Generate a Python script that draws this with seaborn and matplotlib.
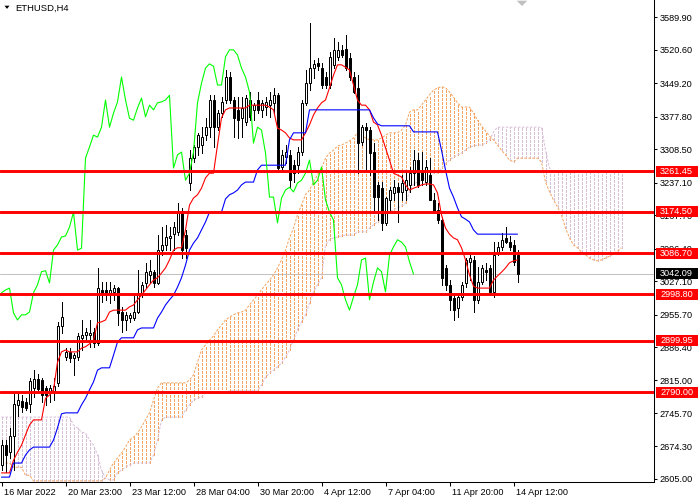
import numpy as np
import seaborn as sns
import matplotlib.pyplot as plt
from matplotlib.patches import Rectangle, Polygon
from matplotlib.transforms import blended_transform_factory, ScaledTranslation

# ETHUSD H4 candles
opens = [
    2634, 2677, 2663, 2696, 2762, 2771, 2769, 2764, 2799, 2818,
    2816, 2799, 2791, 2793, 2810, 2931, 2865, 2876, 2863, 2865,
    2906, 2912, 2912, 2919, 2895, 3008, 3008, 3002, 3004, 3012,
    2961, 2944, 2948, 2948, 2961, 3002, 3023, 3040, 3047, 3023,
    3093, 3104, 3119, 3127, 3132, 3174, 3125, 3236, 3289, 3313,
    3317, 3338, 3355, 3413, 3355, 3385, 3413, 3462, 3413, 3392,
    3374, 3366, 3413, 3392, 3413, 3392, 3398, 3402, 3407, 3423,
    3270, 3291, 3296, 3274, 3274, 3302, 3407, 3449, 3481, 3492,
    3481, 3462, 3445, 3488, 3505, 3520, 3522, 3502, 3462, 3439,
    3323, 3355, 3349, 3302, 3232, 3225, 3151, 3200, 3215, 3227,
    3217, 3221, 3232, 3257, 3285, 3264, 3238, 3253, 3200, 3179,
    3157, 3055, 3019, 2991, 2970, 2993, 3023, 3068, 3072, 2987,
    3025, 3051, 3055, 3004, 3087, 3100, 3119, 3110, 3104, 3082]
highs = [
    2688, 2688, 2714, 2789, 2786, 2784, 2778, 2820, 2837, 2828,
    2820, 2803, 2805, 2820, 2940, 2983, 2884, 2884, 2874, 2917,
    2944, 2927, 2944, 2927, 3055, 3025, 3025, 3025, 3019, 3014,
    2972, 2961, 2959, 3002, 3051, 3025, 3066, 3072, 3051, 3125,
    3142, 3147, 3142, 3153, 3194, 3183, 3136, 3306, 3317, 3342,
    3355, 3374, 3423, 3423, 3392, 3419, 3477, 3473, 3419, 3419,
    3419, 3423, 3430, 3407, 3430, 3413, 3419, 3430, 3439, 3428,
    3306, 3317, 3306, 3285, 3313, 3413, 3477, 3577, 3498, 3502,
    3492, 3473, 3515, 3545, 3537, 3530, 3552, 3513, 3473, 3466,
    3360, 3364, 3355, 3321, 3238, 3238, 3206, 3227, 3242, 3236,
    3253, 3260, 3270, 3306, 3300, 3302, 3285, 3289, 3215, 3194,
    3164, 3061, 3029, 3002, 3002, 3025, 3076, 3082, 3080, 3057,
    3061, 3066, 3061, 3110, 3110, 3130, 3142, 3123, 3115, 3093]
lows = [
    2624, 2620, 2650, 2624, 2739, 2748, 2752, 2748, 2780, 2791,
    2769, 2762, 2769, 2773, 2803, 2917, 2859, 2855, 2826, 2859,
    2880, 2901, 2886, 2886, 2891, 2983, 2987, 2981, 2987, 2934,
    2919, 2923, 2940, 2944, 2959, 2993, 3014, 3023, 3014, 3021,
    3082, 3093, 3093, 3093, 3125, 3076, 3076, 3221, 3281, 3296,
    3300, 3328, 3334, 3313, 3349, 3377, 3407, 3407, 3334, 3332,
    3334, 3360, 3370, 3370, 3385, 3377, 3381, 3377, 3385, 3260,
    3264, 3279, 3225, 3238, 3257, 3296, 3402, 3434, 3460, 3477,
    3439, 3439, 3439, 3481, 3498, 3505, 3477, 3456, 3428, 3257,
    3317, 3264, 3253, 3172, 3157, 3136, 3147, 3174, 3200, 3153,
    3200, 3200, 3217, 3232, 3227, 3232, 3232, 3200, 3172, 3151,
    3019, 3008, 2965, 2944, 2950, 2987, 3014, 3029, 2961, 2981,
    3021, 3029, 2997, 2993, 3082, 3093, 3108, 3093, 3061, 3025]
closes = [
    2677, 2656, 2696, 2764, 2773, 2758, 2756, 2814, 2818, 2797,
    2784, 2784, 2799, 2803, 2931, 2950, 2876, 2863, 2869, 2910,
    2912, 2919, 2917, 2895, 3012, 3002, 3002, 3008, 3012, 2959,
    2944, 2955, 2955, 2961, 3002, 3019, 3047, 3049, 3023, 3093,
    3104, 3121, 3123, 3142, 3174, 3093, 3097, 3289, 3313, 3338,
    3334, 3355, 3413, 3355, 3385, 3409, 3462, 3413, 3374, 3370,
    3396, 3417, 3377, 3402, 3392, 3407, 3409, 3413, 3423, 3268,
    3296, 3302, 3242, 3257, 3302, 3407, 3449, 3481, 3490, 3485,
    3445, 3445, 3505, 3520, 3520, 3509, 3481, 3462, 3430, 3321,
    3355, 3349, 3300, 3206, 3206, 3151, 3204, 3221, 3227, 3217,
    3236, 3242, 3257, 3285, 3232, 3242, 3270, 3200, 3174, 3157,
    3034, 3019, 2987, 2965, 2993, 3019, 3072, 3076, 2987, 3025,
    3055, 3047, 3004, 3082, 3100, 3115, 3110, 3100, 3068, 3042.09]

# Ichimoku lines
tenkan = [
    2618, 2618, 2618, 2645, 2662, 2677, 2699, 2720, 2731, 2731,
    2731, 2777, 2784, 2795, 2854, 2876, 2880, 2876, 2876, 2876,
    2884, 2887, 2893, 2901, 2938, 2940, 2944, 2961, 2965, 2965,
    2965, 2965, 2972, 2976, 2987, 2997, 3008, 3019, 3029, 3034,
    3044, 3055, 3072, 3093, 3098, 3098, 3136, 3189, 3204, 3211,
    3225, 3247, 3257, 3257, 3317, 3375, 3392, 3396, 3396, 3396,
    3396, 3396, 3402, 3402, 3402, 3402, 3402, 3398, 3392, 3353,
    3349, 3343, 3332, 3328, 3328, 3328, 3343, 3360, 3381, 3396,
    3407, 3413, 3439, 3466, 3488, 3488, 3483, 3477, 3445, 3413,
    3402, 3402, 3392, 3366, 3360, 3338, 3311, 3285, 3257, 3253,
    3249, 3232, 3221, 3225, 3228, 3232, 3234, 3234, 3232, 3215,
    3168, 3140, 3127, 3119, 3115, 3098, 3072, 3040, 3016, 3012,
    3012, 3012, 3012, 3029, 3038, 3046, 3055, 3066, 3070, 3072]
kijun = [
    2609, 2609, 2609, 2639, 2639, 2639, 2656, 2667, 2673, 2673,
    2673, 2673, 2673, 2688, 2714, 2744, 2746, 2746, 2746, 2746,
    2763, 2777, 2795, 2812, 2837, 2842, 2842, 2842, 2869, 2897,
    2906, 2906, 2906, 2906, 2923, 2927, 2927, 2927, 2927, 2948,
    2961, 2976, 2987, 2997, 3014, 3034, 3061, 3093, 3108, 3119,
    3136, 3153, 3174, 3174, 3174, 3174, 3202, 3211, 3215, 3221,
    3232, 3238, 3238, 3238, 3264, 3274, 3274, 3274, 3274, 3274,
    3274, 3274, 3328, 3343, 3343, 3343, 3343, 3392, 3392, 3392,
    3392, 3392, 3392, 3392, 3392, 3392, 3392, 3392, 3392, 3392,
    3392, 3392, 3392, 3375, 3362, 3358, 3358, 3358, 3358, 3358,
    3358, 3358, 3358, 3345, 3345, 3345, 3345, 3345, 3345, 3345,
    3306, 3264, 3225, 3206, 3183, 3164, 3159, 3153, 3136, 3127,
    3127, 3127, 3127, 3127, 3127, 3127, 3127, 3127, 3127, 3127]
span_a = [
    2639, 2639, 2639, 2630, 2630, 2630, 2613, 2613, 2601, 2601,
    2601, 2601, 2601, 2601, 2601, 2601, 2601, 2601, 2601, 2601,
    2601, 2601, 2601, 2601, 2601, 2601, 2607, 2624, 2639, 2650,
    2660, 2673, 2688, 2694, 2703, 2716, 2731, 2746, 2773, 2799,
    2810, 2810, 2810, 2810, 2810, 2810, 2810, 2816, 2827, 2854,
    2880, 2891, 2901, 2910, 2923, 2933, 2944, 2950, 2955, 2959,
    2961, 2965, 2976, 2987, 2997, 3008, 3019, 3029, 3040, 3055,
    3072, 3093, 3119, 3140, 3168, 3189, 3211, 3221, 3238, 3253,
    3268, 3289, 3300, 3306, 3315, 3317, 3321, 3326, 3332, 3343,
    3338, 3332, 3328, 3328, 3328, 3332, 3338, 3343, 3343, 3343,
    3349, 3360, 3387, 3392, 3392, 3402, 3413, 3424, 3434, 3439,
    3441, 3439, 3430, 3419, 3407, 3398, 3398, 3398, 3385, 3370,
    3358, 3347, 3336, 3328, 3317, 3306, 3296, 3285, 3281, 3289,
    3289, 3289, 3289, 3289, 3289, 3281, 3238, 3217, 3200, 3185,
    3168, 3140, 3119, 3104, 3098, 3089, 3083, 3076, 3072, 3070,
    3072, 3076, 3080, 3085, 3091, 3098]
span_b = [
    2737, 2737, 2737, 2737, 2737, 2737, 2737, 2737, 2737, 2737,
    2737, 2737, 2737, 2737, 2737, 2737, 2737, 2737, 2720, 2714,
    2705, 2703, 2688, 2677, 2656, 2624, 2607, 2603, 2603, 2618,
    2624, 2630, 2635, 2639, 2639, 2639, 2639, 2639, 2656, 2688,
    2731, 2737, 2737, 2737, 2737, 2737, 2752, 2763, 2773, 2777,
    2780, 2788, 2788, 2788, 2788, 2788, 2788, 2793, 2793, 2793,
    2793, 2793, 2793, 2793, 2793, 2805, 2822, 2831, 2837, 2844,
    2852, 2865, 2880, 2901, 2923, 2940, 2955, 2980, 3004, 3019,
    3034, 3104, 3115, 3119, 3121, 3123, 3125, 3125, 3125, 3132,
    3132, 3132, 3140, 3147, 3153, 3161, 3170, 3174, 3179, 3183,
    3187, 3193, 3217, 3234, 3238, 3242, 3247, 3253, 3257, 3257,
    3268, 3277, 3285, 3291, 3296, 3300, 3306, 3313, 3315, 3317,
    3317, 3321, 3328, 3345, 3355, 3355, 3355, 3355, 3355, 3355,
    3355, 3355, 3355, 3355, 3355, 3355, 3306, 3268, 3260, 3260,
    3260, 3260, 3260, 3260, 3260, 3260, 3260, 3260, 3260, 3260,
    3260, 3260, 3260, 3260, 3260, 3260]

levels = [3261.45, 3174.50, 3086.70, 2998.80, 2899.95, 2790.00]
last_price = 3042.09
price_ticks = [3589.90, 3520.60, 3449.20, 3377.80, 3308.50, 3237.10, 3167.70,
               3096.40, 3027.10, 2955.70, 2886.40, 2815.00, 2745.70, 2674.30, 2605.00]
date_labels = ["16 Mar 2022", "20 Mar 23:00", "23 Mar 12:00", "28 Mar 04:00",
               "30 Mar 20:00", "4 Apr 12:00", "7 Apr 04:00", "11 Apr 20:00", "14 Apr 12:00"]
date_ticks = [0, 16, 32, 48, 64, 80, 96, 112, 128]
chikou_shift = 26

sns.set_style("white", {"axes.edgecolor": "black", "xtick.color": "black",
                        "ytick.color": "black", "text.color": "black"})
plt.rcParams['font.family'] = ['Liberation Sans', 'DejaVu Sans']

o = np.array(opens, dtype=float)
h = np.array(highs, dtype=float)
l = np.array(lows, dtype=float)
c = np.array(closes, dtype=float)
bars = np.arange(len(c))
a = np.array(span_a, dtype=float)
b = np.array(span_b, dtype=float)
cloud_x = np.arange(len(a))

fig = plt.figure(figsize=(7, 5), dpi=100)
ax = fig.add_axes([0, 18 / 500, 654 / 700, 482 / 500])

# cloud hatching
dash = (0, (2.5, 1.5))
bull = a >= b
ax.vlines(cloud_x[bull], b[bull], a[bull], colors='#F4A460', lw=0.72,
          linestyles=[dash], zorder=1, antialiased=False)
ax.vlines(cloud_x[~bull], a[~bull], b[~bull], colors='#D8BFD8', lw=0.72,
          linestyles=[dash], zorder=1, antialiased=False)
sns.lineplot(x=cloud_x, y=a, color='#F4A460', lw=0.72, linestyle=dash,
             errorbar=None, ax=ax, zorder=1.5)
sns.lineplot(x=cloud_x, y=b, color='#D8BFD8', lw=0.72, linestyle=dash,
             errorbar=None, ax=ax, zorder=1.5)

# current price line
ax.axhline(last_price, color='#C0C0C0', lw=0.72, zorder=0.8)

# candles
up = c >= o
ax.vlines(bars, l, h, color='black', lw=0.72, zorder=3, antialiased=False)
ax.bar(bars[up], (c - o)[up], bottom=o[up], width=0.5, color='white',
       edgecolor='black', linewidth=0.72, zorder=3.5)
ax.bar(bars[~up], (o - c)[~up], bottom=c[~up], width=0.5, color='black',
       edgecolor='black', linewidth=0.72, zorder=3.5)

# ichimoku lines
sns.lineplot(x=bars, y=tenkan, color='#FF0000', lw=0.8, errorbar=None, ax=ax, zorder=4)
sns.lineplot(x=bars, y=kijun, color='#0000FF', lw=0.8, errorbar=None, ax=ax, zorder=4)
sns.lineplot(x=bars[:len(c) - chikou_shift], y=c[chikou_shift:], color='#00FF00',
             lw=0.8, errorbar=None, ax=ax, zorder=4)

# support / resistance levels
for lv in levels:
    ax.axhline(lv, color='#FF0000', lw=2.1, zorder=6)

ax.set_xlim(-0.375, 163.125)
ax.set_ylim(2598.6, 3626.2)
ax.set_xlabel("")
ax.set_ylabel("")
for side in ['top', 'left']:
    ax.spines[side].set_visible(False)
for side in ['right', 'bottom']:
    ax.spines[side].set_color('black')
    ax.spines[side].set_linewidth(0.75)

ax.yaxis.tick_right()
ax.set_yticks(price_ticks)
ax.set_yticklabels([f"{v:.2f}" for v in price_ticks])
ax.tick_params(axis='y', right=True, left=False, labelright=True, labelleft=False,
               direction='out', length=2.5, width=0.75, pad=1.5, labelsize=6.6)
ax.set_xticks(date_ticks)
ax.set_xticklabels(date_labels)
ax.tick_params(axis='x', bottom=True, direction='out', length=3, width=0.75,
               pad=1.5, labelsize=6.6)
shift_tf = ScaledTranslation(2 / 100, 0, fig.dpi_scale_trans)
for lbl in ax.get_xticklabels():
    lbl.set_horizontalalignment('left')
    lbl.set_transform(lbl.get_transform() + shift_tf)

# price boxes on the right scale
trans = blended_transform_factory(ax.transAxes, ax.transData)
px = 2.132  # price per pixel
box_w = 42 / 654
for lv, fc in [(v, '#FF0000') for v in levels] + [(last_price, 'black')]:
    ax.add_patch(Rectangle((1 + 2 / 654, lv - 5.5 * px), box_w, 11 * px,
                           transform=trans, facecolor=fc, edgecolor='none',
                           clip_on=False, zorder=10))
    ax.text(1 + 6 / 654, lv, f"{lv:.2f}", transform=trans, color='white',
            fontsize=6.6, va='center', ha='left', clip_on=False, zorder=11)

# header
fig.text(15 / 700, 1 - 8 / 500, "ETHUSD,H4", fontsize=6.8, va='center', ha='left')
fig.add_artist(Polygon([[3 / 700, 1 - 5 / 500], [11 / 700, 1 - 5 / 500], [7 / 700, 1 - 10 / 500]],
                       closed=True, transform=fig.transFigure, facecolor='black'))
fig.add_artist(Polygon([[515 / 700, 1.0], [529 / 700, 1.0], [522 / 700, 1 - 7 / 500]],
                       closed=True, transform=fig.transFigure, facecolor='#C0C0C0'))

fig.savefig("out.png", dpi=100)
